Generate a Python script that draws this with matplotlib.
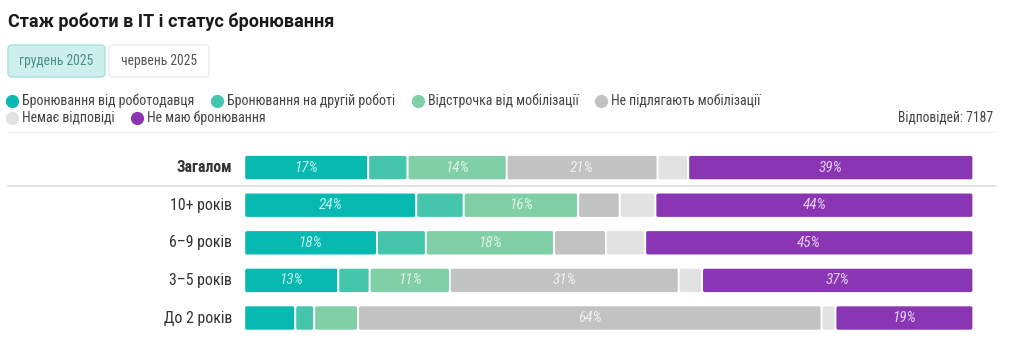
import matplotlib
matplotlib.use("Agg")
import matplotlib.pyplot as plt
from matplotlib.patches import FancyBboxPatch
from matplotlib.lines import Line2D

plt.rcParams['font.family'] = ['Roboto Condensed', 'Roboto', 'DejaVu Sans']

# дані
rows = ["Загалом", "10+ років", "6–9 років", "3–5 років", "До 2 років"]
categories = ["Бронювання від роботодавця", "Бронювання на другій роботі",
              "Відстрочка від мобілізації", "Не підлягають мобілізації",
              "Немає відповіді", "Не маю бронювання"]
colors = ["#07b9b1", "#45c5ac", "#80cfa6", "#c2c2c2", "#e2e2e2", "#8a36b4"]

employer = [17.0, 23.6, 18.2, 12.9, 7.0]
second_job = [5.4, 6.5, 6.7, 4.3, 2.6]
deferral = [13.6, 15.7, 17.6, 11.0, 6.0]
not_subject = [20.7, 5.7, 7.1, 31.4, 63.6]
no_answer = [4.2, 4.9, 5.4, 3.2, 1.9]
no_booking = [39.1, 43.6, 45.0, 37.2, 18.9]
series = [employer, second_job, deferral, not_subject, no_answer, no_booking]

responses = 7187
tabs = ["грудень 2025", "червень 2025"]

W, H = 1024, 363
fig = plt.figure(figsize=(W / 100, H / 100), dpi=100)

def fx(px):
    return px / W

def fy(py):
    return 1 - py / H

# заголовок
fig.text(fx(8), fy(22), "Стаж роботи в IT і статус бронювання", fontsize=13,
         fontweight="bold", color="#1a1a1a", va="center", ha="left",
         family=["Roboto", "DejaVu Sans"])

# кнопки
tab_boxes = [(8, 45, 97, 32, "#cdf0ee", "#a6e0db", "#4d8e89"),
             (109, 45, 100, 32, "#ffffff", "#ececec", "#555555")]
for label, (x0, y0, w, h, fc, ec, tc) in zip(tabs, tab_boxes):
    box = FancyBboxPatch((fx(x0), fy(y0 + h)), fx(w), h / H,
                         boxstyle="round,pad=0,rounding_size=0.004",
                         transform=fig.transFigure, fc=fc, ec=ec, lw=1,
                         mutation_aspect=W / H)
    fig.add_artist(box)
    fig.text(fx(x0 + w / 2), fy(y0 + h / 2), label, fontsize=9.8, color=tc,
             ha="center", va="center")

# легенда
legend_pos = [(12, 101), (217, 101), (418, 101), (601, 101), (12, 118), (137, 118)]
for cat, col, (lx, ly) in zip(categories, colors, legend_pos):
    fig.add_artist(Line2D([fx(lx)], [fy(ly)], marker="o", markersize=8.5,
                          color=col, lw=0, transform=fig.transFigure))
    fig.text(fx(lx + 10), fy(ly), cat, fontsize=10, color="#444444",
             ha="left", va="center")

fig.text(fx(993), fy(118), f"Відповідей: {responses}", fontsize=9.8,
         color="#444444", ha="right", va="center")

fig.add_artist(Line2D([fx(8), fx(994)], [fy(132), fy(132)], color="#f0f0f0",
                      lw=1, transform=fig.transFigure))

# бари
ax = fig.add_axes([fx(244.3), fy(336.8), fx(729), 188 / H])
ypos = list(range(len(rows)))
left = [0.0] * len(rows)
for vals, col in zip(series, colors):
    bars = ax.barh(ypos, vals, left=left, height=0.67, color=col,
                   edgecolor="white", linewidth=1.3)
    # заокруглені кути
    for rect in bars:
        rb = FancyBboxPatch((rect.get_x(), rect.get_y()), rect.get_width(),
                            rect.get_height(),
                            boxstyle="round,pad=0,rounding_size=0.35",
                            mutation_aspect=0.194, fc=col, ec="white",
                            lw=1.3)
        ax.add_patch(rb)
        rect.set_visible(False)
    labels = [f"{round(v)}%" if v >= 10 else "" for v in vals]
    ax.bar_label(bars, labels=labels, label_type="center", fontsize=11,
                 style="italic", color="white", alpha=0.75)
    left = [a + b for a, b in zip(left, vals)]

ax.set_xlim(0, 100)
ax.set_ylim(len(rows) - 0.5, -0.5)
ax.axis("off")

for i, r in enumerate(rows):
    ax.text(-1.7, i, r, ha="right", va="center", fontsize=11.4,
            color="#333333", fontweight="bold" if i == 0 else "normal",
            transform=ax.transData)

fig.add_artist(Line2D([fx(8), fx(996)], [fy(186), fy(186)], color="#dddddd",
                      lw=1.2, transform=fig.transFigure))

fig.savefig("out.png", dpi=100)
